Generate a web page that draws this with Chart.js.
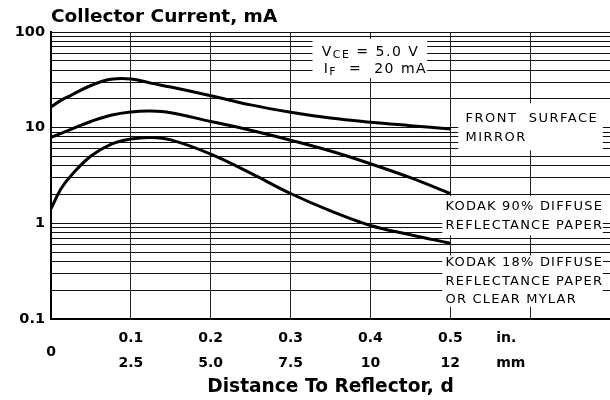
<!DOCTYPE html>
<html>
<head>
<meta charset="utf-8">
<script src="https://cdn.jsdelivr.net/npm/chart.js@4.4.1/dist/chart.umd.min.js"></script>
<style>
  html, body { margin: 0; padding: 0; background: #fff; }
  #wrap { width: 610px; height: 400px; }
</style>
</head>
<body>
<div id="wrap"><canvas id="chart"></canvas></div>
<script>
// distance to reflector (inches)
const distIn = [0, 0.0125, 0.025, 0.05, 0.075, 0.1, 0.125, 0.15, 0.2, 0.25, 0.3, 0.35, 0.4, 0.45, 0.5];

// collector current (mA) for each reflector
const mirror  = [16.5, 19.3, 21.8, 27.6, 32.0, 32.3, 29.2, 26.6, 21.6, 17.3, 14.5, 12.6, 11.4, 10.5, 9.7];
const kodak90 = [7.9, 8.7, 9.6, 11.6, 13.5, 14.6, 14.9, 14.3, 11.6, 9.4, 7.4, 5.7, 4.2, 3.0, 2.05];
const kodak18 = [1.42, 2.3, 3.15, 5.05, 6.7, 7.6, 7.9, 7.45, 5.3, 3.35, 2.05, 1.35, 0.95, 0.76, 0.62];

// tick labels
const xTickIn = [0.1, 0.2, 0.3, 0.4, 0.5];
const xLabelsIn = ['0.1', '0.2', '0.3', '0.4', '0.5'];
const xLabelsMm = ['2.5', '5.0', '7.5', '10', '12'];
const yGrid = [0.1, 0.2, 0.3, 0.4, 0.5, 0.6, 0.7, 0.8, 0.9,
               1, 2, 3, 4, 5, 6, 7, 8, 9,
               10, 20, 30, 40, 50, 60, 70, 80, 90, 100];
const yLabelValues = [0.1, 1, 10, 100];

const toPts = arr => arr.map((v, i) => ({x: distIn[i], y: v}));

const curve = (label, data) => ({
    label: label,
    data: toPts(data),
    borderColor: '#000',
    borderWidth: 3,
    pointRadius: 0,
    tension: 0.4,
    fill: false
});

// white label boxes over the grid, with text
const notes = [
    {box: [0.3275, 0.471, 85, 33], tx: 0.339, ty: 61.8, cond: true},
    {box: [0.51, 0.691, 18, 5.8], tx: 0.519, ty: 12.3, sp: '1.5px', lines: ['FRONT  SURFACE', 'MIRROR']},
    {box: [0.49, 0.691, 1.93, 0.75], tx: 0.494, ty: 1.48, sp: '1.2px', lines: ['KODAK 90% DIFFUSE', 'REFLECTANCE PAPER']},
    {box: [0.49, 0.691, 0.46, 0.134], tx: 0.494, ty: 0.385, sp: '1.2px', lines: ['KODAK 18% DIFFUSE', 'REFLECTANCE PAPER', 'OR CLEAR MYLAR']}
];

const labelBoxes = {
    id: 'labelBoxes',
    beforeDatasetsDraw(chart) {
        const {ctx, scales: {x, y}} = chart;
        ctx.save();
        notes.forEach(n => {
            const x0 = x.getPixelForValue(n.box[0]), x1 = x.getPixelForValue(n.box[1]);
            const y0 = y.getPixelForValue(n.box[2]), y1 = y.getPixelForValue(n.box[3]);
            ctx.fillStyle = '#fff';
            ctx.fillRect(x0, y0, x1 - x0, y1 - y0);

            const tx = x.getPixelForValue(n.tx);
            let ty = y.getPixelForValue(n.ty);
            ctx.fillStyle = '#000';
            ctx.textBaseline = 'middle';
            ctx.textAlign = 'left';
            if (n.cond) {
                // V_CE = 5.0 V / I_F = 20 mA
                ctx.letterSpacing = '1.5px';
                const rows = [['V', 'CE', ' = 5.0 V'], ['I', 'F', '  =  20 mA']];
                rows.forEach((r, k) => {
                    let cx = tx + k * 2;
                    ctx.font = '14px "DejaVu Sans"';
                    ctx.fillText(r[0], cx, ty);
                    cx += ctx.measureText(r[0]).width;
                    ctx.font = '11px "DejaVu Sans"';
                    ctx.fillText(r[1], cx, ty + 3);
                    cx += ctx.measureText(r[1]).width;
                    ctx.font = '14px "DejaVu Sans"';
                    ctx.fillText(r[2], cx, ty);
                    ty += 17;
                });
            } else {
                ctx.letterSpacing = n.sp;
                ctx.font = '13px "DejaVu Sans"';
                n.lines.forEach(t => {
                    ctx.fillText(t, tx, ty);
                    ty += 18.5;
                });
            }
        });
        ctx.restore();
    }
};

// two-row distance labels under the x axis
const xTicks = {
    id: 'xTicks',
    afterDraw(chart) {
        const {ctx, chartArea: a, scales: {x}} = chart;
        ctx.save();
        ctx.fillStyle = '#000';
        ctx.font = 'bold 14px "DejaVu Sans"';
        ctx.textBaseline = 'middle';
        ctx.textAlign = 'center';
        ctx.fillText('0', x.getPixelForValue(0), a.bottom + 33);
        xTickIn.forEach((v, i) => {
            const px = x.getPixelForValue(v);
            ctx.fillText(xLabelsIn[i], px, a.bottom + 19);
            ctx.fillText(xLabelsMm[i], px, a.bottom + 44);
        });
        ctx.textAlign = 'left';
        const ux = x.getPixelForValue(0.5) + 46;
        ctx.fillText('in.', ux, a.bottom + 19);
        ctx.fillText('mm', ux, a.bottom + 44);
        ctx.restore();
    }
};

const chart = document.querySelector('#chart').getContext('2d');

new Chart(chart, {
    type: 'line',
    data: {
        datasets: [
            curve('Front Surface Mirror', mirror),
            curve('Kodak 90% Diffuse', kodak90),
            curve('Kodak 18% Diffuse', kodak18)
        ]
    },
    options: {
        responsive: true,
        maintainAspectRatio: false,
        animation: false,
        layout: { padding: 0 },
        plugins: {
            legend: { display: false },
            tooltip: { enabled: false },
            title: {
                display: true,
                text: 'Collector Current, mA',
                align: 'start',
                fullSize: false,
                color: '#000',
                font: { family: 'DejaVu Sans', size: 18.5, weight: 'bold' },
                padding: { top: 6, bottom: 3.8 }
            }
        },
        scales: {
            x: {
                type: 'linear',
                min: 0,
                max: 0.7,
                ticks: { display: false, stepSize: 0.1 },
                grid: { color: '#222', lineWidth: 1, drawTicks: false },
                border: { color: '#000', width: 2 },
                title: {
                    display: true,
                    text: 'Distance To Reflector, d',
                    color: '#000',
                    font: { family: 'DejaVu Sans', size: 18.6, weight: 'bold' },
                    padding: { top: 0, bottom: 2 }
                },
                afterFit: s => { s.height = 81; }
            },
            y: {
                type: 'logarithmic',
                min: 0.1,
                max: 100,
                afterBuildTicks: s => { s.ticks = yGrid.map(v => ({value: v})); },
                ticks: {
                    autoSkip: false,
                    padding: 6,
                    color: '#000',
                    font: { family: 'DejaVu Sans', size: 14.5, weight: 'bold' },
                    callback: v => yLabelValues.includes(v) ? String(v) : ''
                },
                grid: { color: '#111', lineWidth: 1, drawTicks: false },
                border: { color: '#000', width: 2 },
                afterFit: s => { s.width = 51; }
            }
        }
    },
    plugins: [labelBoxes, xTicks]
});
</script>
</body>
</html>
